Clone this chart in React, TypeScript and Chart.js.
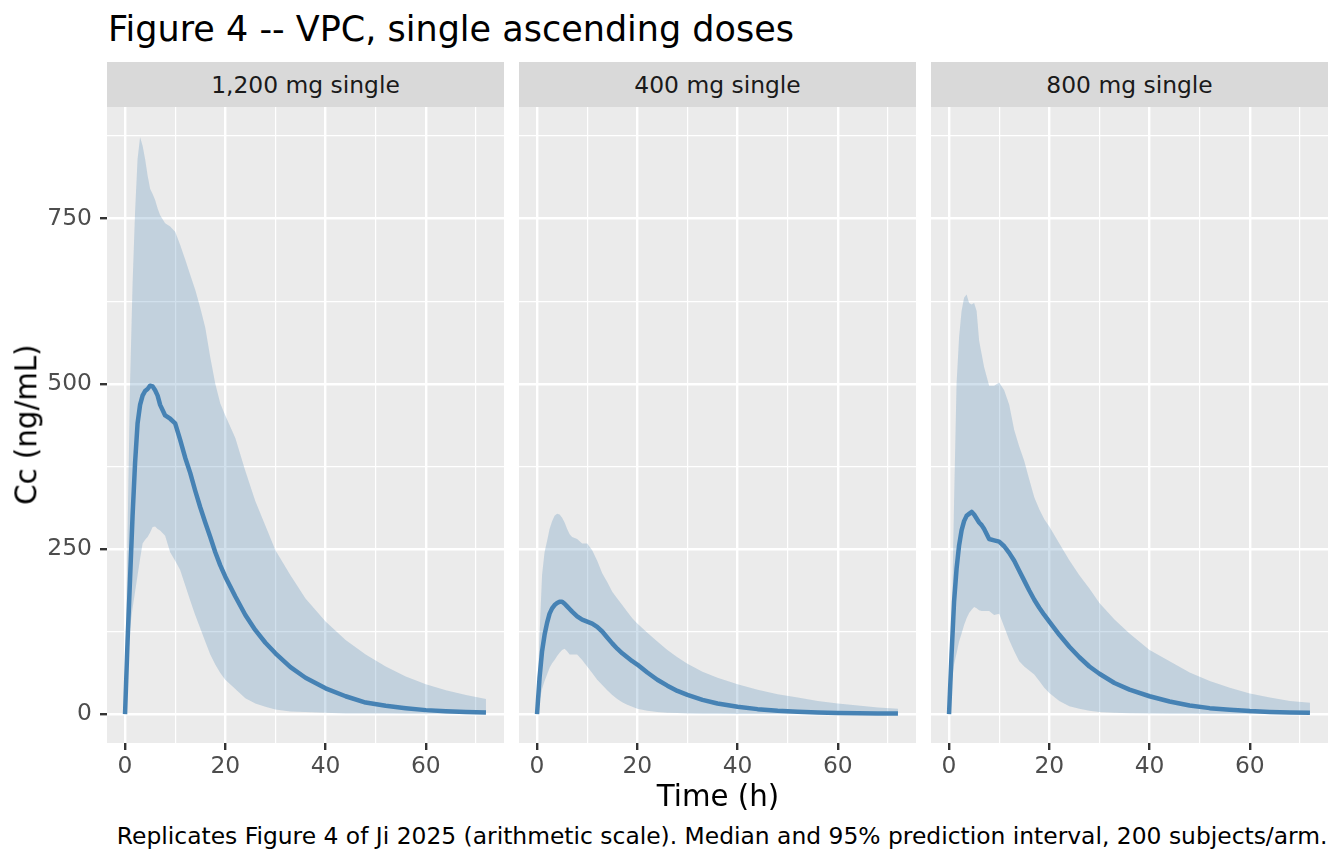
import React, { useEffect, useRef } from 'react';
import { Chart, registerables } from 'chart.js';

Chart.register(...registerables);

// ---------------- data ----------------
const TIME = [0, 0.5, 1, 1.5, 2, 2.5, 3, 3.5, 4, 4.5, 5, 5.5, 6, 6.5, 7, 8, 9, 10, 11, 12, 13, 14, 15, 16, 17, 18, 19, 20, 22, 24, 26, 28, 30, 33, 36, 40, 44, 48, 52, 56, 60, 64, 68, 72];

const PANEL_LABELS = ['1,200 mg single', '400 mg single', '800 mg single'];

// 1,200 mg
const MED_1200 = [0, 110, 205, 300, 380, 440, 468, 482, 489, 492, 497, 496, 490, 482, 468, 452, 447, 440, 415, 388, 365, 338, 313, 290, 268, 245, 225, 208, 178, 150, 127, 108, 92, 71, 55, 39, 27, 17.5, 12.5, 9, 6, 4.3, 3.1, 2.3];
const HI_1200 = [0, 270, 500, 650, 760, 840, 873, 860, 840, 815, 795, 787, 778, 765, 755, 743, 738, 730, 710, 688, 665, 642, 615, 585, 540, 500, 470, 452, 418, 368, 322, 285, 248, 210, 175, 140, 112, 90, 72, 57, 45, 36, 29, 23];
const LO_1200 = [0, 65, 130, 160, 185, 210, 235, 258, 264, 268, 275, 283, 284, 280, 278, 270, 245, 232, 218, 195, 172, 150, 130, 110, 90, 75, 62, 52, 38, 24, 16, 11, 7, 4, 3, 2, 1, 1, 1, 0.5, 0.5, 0.4, 0.3, 0.3];

// 400 mg
const MED_400 = [0, 55, 95, 120, 138, 152, 160, 165, 168, 170, 170, 167, 163, 159, 155, 148, 143, 140, 137, 132, 125, 116, 107, 99, 92, 86, 80, 75, 63, 52, 43, 35, 29, 21.5, 16, 11, 7.5, 5, 3.5, 2.5, 1.8, 1.3, 1, 0.8];
const HI_400 = [0, 120, 210, 245, 262, 280, 292, 300, 303, 302, 297, 290, 280, 272, 268, 265, 258, 258, 248, 232, 213, 200, 185, 175, 165, 155, 145, 137, 123, 110, 97, 86, 76, 64, 55, 45, 37, 30, 25, 20, 16, 13, 10, 8];
const LO_400 = [0, 20, 38, 50, 60, 70, 77, 82, 88, 93, 97, 99, 95, 90, 90, 90, 82, 72, 62, 52, 44, 36, 29, 23, 18, 14, 11, 8, 5, 3, 2, 1.5, 1, 0.7, 0.5, 0.3, 0.2, 0.2, 0.1, 0.1, 0.1, 0.1, 0.1, 0.1];

// 800 mg
const MED_800 = [0, 90, 170, 220, 255, 278, 292, 300, 303, 306, 302, 296, 290, 286, 280, 265, 263, 261, 254, 244, 232, 217, 202, 187, 173, 161, 150, 140, 120, 102, 86, 72, 61, 47, 37, 27, 19, 13, 9, 6.5, 4.5, 3.3, 2.5, 2];
const HI_800 = [0, 120, 320, 500, 570, 610, 630, 635, 622, 620, 622, 610, 565, 545, 525, 497, 497, 502, 490, 468, 430, 405, 383, 355, 328, 310, 295, 284, 258, 233, 210, 190, 168, 143, 122, 97, 80, 63, 50, 40, 31, 25, 20, 17];
const LO_800 = [0, 45, 75, 92, 110, 122, 135, 145, 153, 158, 162, 160, 157, 156, 156, 156, 150, 152, 132, 112, 95, 80, 72, 66, 60, 50, 40, 32, 20, 12, 8, 5, 3, 2, 1.2, 0.8, 0.5, 0.4, 0.3, 0.2, 0.2, 0.1, 0.1, 0.1];

const MEDIANS = [MED_1200, MED_400, MED_800];
const UPPERS = [HI_1200, HI_400, HI_800];
const LOWERS = [LO_1200, LO_400, LO_800];

const X_GRID = [0, 10, 20, 30, 40, 50, 60, 70];
const X_LABELED_TICKS = [0, 20, 40, 60];
const Y_GRID = [0, 125, 250, 375, 500, 625, 750, 875];
const Y_LABELED_TICKS = [0, 250, 500, 750];

// ---------------- layout ----------------
const PANEL_LEFT = [107, 519, 931];
const PANEL_W = 397;
const PANEL_TOP = 107;
const PANEL_BOTTOM = 743;
const Y_AXIS_W = 107;
const TOP_PAD = 30;
const X_AXIS_H = 57;
const CANVAS_TOP = PANEL_TOP - TOP_PAD;
const CANVAS_H = PANEL_BOTTOM - CANVAS_TOP + X_AXIS_H;
const CANVAS_W = Y_AXIS_W + PANEL_W;

const FONT = "'DejaVu Sans', sans-serif";
const STEEL = '#4682B4';
const BAND = 'rgba(70,130,180,0.25)';
const TICK_FONT = 23.4;

const bgPlugin = {
  id: 'panelBg',
  beforeDraw(chart: any) {
    const { ctx, chartArea: a } = chart;
    ctx.save();
    ctx.fillStyle = '#EBEBEB';
    ctx.fillRect(a.left, a.top, a.right - a.left, a.bottom - a.top);
    ctx.restore();
  },
};

function toPts(vals: number[]) {
  return TIME.map((t, i) => ({ x: t, y: vals[i] }));
}

function Panel({ idx }: { idx: number }) {
  const ref = useRef<HTMLCanvasElement | null>(null);
  useEffect(() => {
    if (!ref.current) return;
    const showY = idx === 0;
    const chart = new Chart(ref.current, {
      type: 'line',
      data: {
        datasets: [
          {
            data: toPts(MEDIANS[idx]),
            borderColor: STEEL,
            borderWidth: 4.5,
            pointRadius: 0,
            fill: false,
            tension: 0,
            borderJoinStyle: 'round',
            borderCapStyle: 'butt',
          },
          {
            data: toPts(UPPERS[idx]),
            borderWidth: 0,
            borderColor: 'rgba(0,0,0,0)',
            backgroundColor: BAND,
            pointRadius: 0,
            fill: '+1',
            tension: 0,
          },
          {
            data: toPts(LOWERS[idx]),
            borderWidth: 0,
            borderColor: 'rgba(0,0,0,0)',
            pointRadius: 0,
            fill: false,
            tension: 0,
          },
        ],
      },
      options: {
        animation: false,
        responsive: false,
        maintainAspectRatio: false,
        events: [],
        layout: { padding: { top: TOP_PAD, left: 0, right: 0, bottom: 0 } },
        plugins: { legend: { display: false }, tooltip: { enabled: false }, title: { display: false } },
        scales: {
          x: {
            type: 'linear',
            min: -3.6,
            max: 75.6,
            bounds: 'data',
            border: { display: false },
            grid: {
              color: '#FFFFFF',
              lineWidth: (c: any) => (c.tick && X_LABELED_TICKS.includes(c.tick.value) ? 2.4 : 1.2),
              drawTicks: true,
              tickLength: 7,
              tickWidth: 2.4,
              tickColor: (c: any) => (c.tick && X_LABELED_TICKS.includes(c.tick.value) ? '#333333' : 'rgba(0,0,0,0)'),
            },
            ticks: {
              autoSkip: false,
              maxRotation: 0,
              minRotation: 0,
              padding: 3,
              color: '#4D4D4D',
              font: { family: FONT, size: TICK_FONT },
              callback: (v: any) => (X_LABELED_TICKS.includes(Number(v)) ? String(v) : ''),
            },
            afterBuildTicks: (s: any) => {
              s.ticks = X_GRID.map((v) => ({ value: v }));
            },
            afterFit: (s: any) => {
              s.height = X_AXIS_H;
              s.paddingLeft = 0; s.paddingRight = 0; s.paddingTop = 0; s.paddingBottom = 0;
            },
          },
          y: {
            type: 'linear',
            min: -43.75,
            max: 918.75,
            bounds: 'data',
            border: { display: false },
            grid: {
              color: '#FFFFFF',
              lineWidth: (c: any) => (c.tick && Y_LABELED_TICKS.includes(c.tick.value) ? 2.4 : 1.2),
              drawTicks: showY,
              tickLength: 7,
              tickWidth: 2.4,
              tickColor: (c: any) => (showY && c.tick && Y_LABELED_TICKS.includes(c.tick.value) ? '#333333' : 'rgba(0,0,0,0)'),
            },
            ticks: {
              display: showY,
              autoSkip: false,
              padding: 8,
              color: '#4D4D4D',
              font: { family: FONT, size: TICK_FONT },
              callback: (v: any) => (Y_LABELED_TICKS.includes(Number(v)) ? String(v) : ''),
            },
            afterBuildTicks: (s: any) => {
              s.ticks = Y_GRID.map((v) => ({ value: v }));
            },
            afterFit: (s: any) => {
              s.width = Y_AXIS_W;
              s.paddingLeft = 0; s.paddingRight = 0; s.paddingTop = 0; s.paddingBottom = 0;
            },
          },
        },
      } as any,
      plugins: [bgPlugin],
    });
    return () => chart.destroy();
  }, [idx]);
  return (
    <canvas
      ref={ref}
      width={CANVAS_W}
      height={CANVAS_H}
      style={{ position: 'absolute', left: PANEL_LEFT[idx] - Y_AXIS_W, top: CANVAS_TOP, width: CANVAS_W, height: CANVAS_H }}
    />
  );
}

export default function App() {
  return (
    <div style={{ position: 'absolute', left: 0, top: 0, width: 1344, height: 864, background: '#FFFFFF', fontFamily: FONT, overflow: 'hidden' }}>
      <div style={{ position: 'absolute', left: 108, top: 12.1, fontSize: 35, lineHeight: '35px', whiteSpace: 'nowrap', color: '#000000' }}>
        Figure 4 -- VPC, single ascending doses
      </div>
      {PANEL_LABELS.map((lab, i) => (
        <div
          key={'s' + i}
          style={{
            position: 'absolute', left: PANEL_LEFT[i], top: 62, width: PANEL_W, height: 45,
            background: '#D9D9D9', display: 'flex', alignItems: 'center', justifyContent: 'center',
            fontSize: 23.4, lineHeight: '23.4px', color: '#1A1A1A', paddingTop: 2, boxSizing: 'border-box', whiteSpace: 'nowrap',
          }}
        >
          {lab}
        </div>
      ))}
      {PANEL_LABELS.map((_, i) => (
        <Panel key={'p' + i} idx={i} />
      ))}
      <div
        style={{
          position: 'absolute', left: 26.7 - 150, top: 425 - 14.65, width: 300, height: 29.3,
          fontSize: 29.3, lineHeight: '29.3px', textAlign: 'center', transform: 'rotate(-90deg)', whiteSpace: 'nowrap', color: '#000000',
        }}
      >
        Cc (ng/mL)
      </div>
      <div
        style={{
          position: 'absolute', left: 718 - 200, top: 782.2, width: 400,
          fontSize: 29.3, lineHeight: '29.3px', textAlign: 'center', whiteSpace: 'nowrap', color: '#000000',
        }}
      >
        Time (h)
      </div>
      <div
        style={{
          position: 'absolute', right: 16.5, top: 825.2,
          fontSize: 23.4, lineHeight: '23.4px', textAlign: 'right', whiteSpace: 'nowrap', color: '#000000',
        }}
      >
        Replicates Figure 4 of Ji 2025 (arithmetic scale). Median and 95% prediction interval, 200 subjects/arm.
      </div>
    </div>
  );
}
